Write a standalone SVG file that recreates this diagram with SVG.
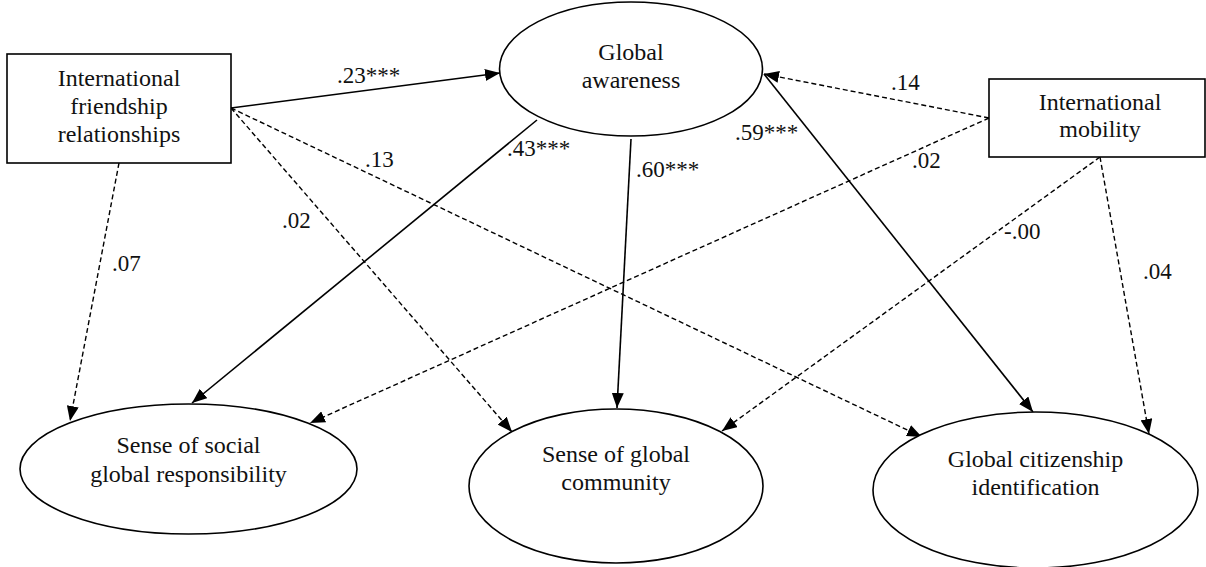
<svg xmlns="http://www.w3.org/2000/svg" width="1206" height="567" viewBox="0 0 1206 567">
<style>
.node{fill:#fff;stroke:#000;stroke-width:1.6}
.t{font-family:'Liberation Serif','DejaVu Serif',serif;font-size:24px;fill:#111;text-anchor:middle}
.lbl{font-family:'Liberation Serif','DejaVu Serif',serif;font-size:23px;fill:#111}
.solid{stroke:#000;stroke-width:1.6;fill:none;marker-end:url(#ah)}
.dash{stroke:#000;stroke-width:1.4;fill:none;stroke-dasharray:5 3;marker-end:url(#ah)}
</style>
<defs>
<marker id="ah" markerUnits="userSpaceOnUse" markerWidth="16" markerHeight="12" refX="15" refY="6" orient="auto">
<path d="M0,0 L15,6 L0,12 Z" fill="#000"/>
</marker>
</defs>
<rect width="1206" height="567" fill="#fff"/>
<g id="connectors">
<line class="solid" x1="231" y1="108" x2="500" y2="73"/>
<line class="dash" x1="231" y1="108" x2="512" y2="432"/>
<line class="dash" x1="231" y1="108" x2="922" y2="437"/>
<line class="dash" x1="119" y1="163" x2="70" y2="421"/>
<line class="solid" x1="537" y1="120" x2="192" y2="403"/>
<line class="solid" x1="631" y1="139" x2="617" y2="408"/>
<line class="solid" x1="764" y1="74" x2="1033" y2="412"/>
<line class="dash" x1="989" y1="118" x2="764" y2="74"/>
<line class="dash" x1="989" y1="118" x2="310" y2="423"/>
<line class="dash" x1="1100" y1="157" x2="722" y2="431"/>
<line class="dash" x1="1100" y1="157" x2="1149" y2="434"/>
</g>
<g id="labels" font-family="Liberation Serif, DejaVu Serif, serif">
<text class="lbl" x="337" y="83">.23***</text>
<text class="lbl" x="365" y="167">.13</text>
<text class="lbl" x="282" y="228">.02</text>
<text class="lbl" x="112" y="271">.07</text>
<text class="lbl" x="507" y="156">.43***</text>
<text class="lbl" x="636" y="177">.60***</text>
<text class="lbl" x="735" y="140">.59***</text>
<text class="lbl" x="891" y="90">.14</text>
<text class="lbl" x="912" y="168">.02</text>
<text class="lbl" x="1004" y="239">-.00</text>
<text class="lbl" x="1143" y="279">.04</text>
</g>
<g id="ifr">
<rect class="node" x="7" y="54" width="224" height="109"/>
<text class="t" x="119" y="86">International</text>
<text class="t" x="119" y="114">friendship</text>
<text class="t" x="119" y="142">relationships</text>
</g>
<g id="ga">
<ellipse class="node" cx="631" cy="69" rx="131.5" ry="67"/>
<text class="t" x="631" y="60">Global</text>
<text class="t" x="631" y="88">awareness</text>
</g>
<g id="im">
<rect class="node" x="989" y="79" width="216" height="78"/>
<text class="t" x="1100" y="110">International</text>
<text class="t" x="1100" y="137">mobility</text>
</g>
<g id="ssgr">
<ellipse class="node" cx="188.5" cy="469" rx="168.5" ry="65"/>
<text class="t" x="188.5" y="453">Sense of social</text>
<text class="t" x="188.5" y="482">global responsibility</text>
</g>
<g id="sgc">
<ellipse class="node" cx="616" cy="486" rx="147" ry="77"/>
<text class="t" x="616" y="462">Sense of global</text>
<text class="t" x="616" y="490">community</text>
</g>
<g id="gci">
<ellipse class="node" cx="1035.5" cy="490" rx="162.5" ry="78"/>
<text class="t" x="1035.5" y="467">Global citizenship</text>
<text class="t" x="1035.5" y="495">identification</text>
</g>
</svg>
